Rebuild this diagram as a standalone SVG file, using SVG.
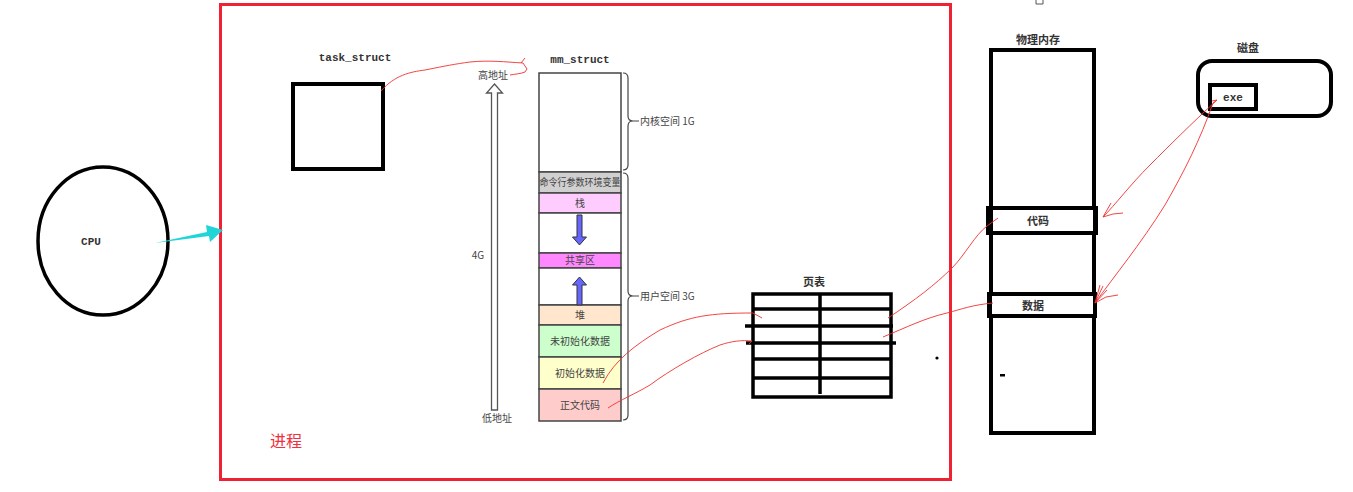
<svg xmlns="http://www.w3.org/2000/svg" width="1353" height="492" viewBox="0 0 1353 492">
<style>
.bold{font-family:"Liberation Mono","DejaVu Sans Mono",monospace;font-weight:bold;font-size:11px;fill:#333}
.cjkb{font-family:"Noto Sans CJK SC",sans-serif;font-weight:bold;font-size:11px;fill:#333}
.lbl{font-family:"Noto Sans CJK SC",sans-serif;font-size:10px;fill:#444}
.seg{stroke:#444;stroke-width:1.5}
.blk{fill:none;stroke:#000}
.red{fill:none;stroke:#f03030;stroke-width:0.9}
.brace{fill:none;stroke:#444;stroke-width:1.2}
.blue{fill:#6666ff;stroke:#333;stroke-width:1}
</style>
<rect width="1353" height="492" fill="#fff"/>
<path d="M1036,4 V0 M1043,4 V0 M1036,4 H1043" stroke="#555" stroke-width="1" fill="none"/>

<g id="process">
<rect x="220.5" y="4.5" width="730" height="475" fill="none" stroke="#ee2233" stroke-width="3"/>
<text x="270" y="447" font-family="Noto Sans CJK SC,sans-serif" font-size="16" fill="#f03040">进程</text>
</g>

<g id="cpu">
<ellipse cx="103" cy="241" rx="65" ry="74" class="blk" stroke-width="3.5"/>
<text x="91" y="245" class="bold" font-size="10" text-anchor="middle">CPU</text>
</g>

<g id="task_struct">
<text x="355" y="61" class="bold" text-anchor="middle">task_struct</text>
<rect x="293" y="84" width="90" height="85" class="blk" stroke-width="4"/>
</g>

<g id="address_axis">
<text x="493" y="79" class="lbl" text-anchor="middle">高地址</text>
<path d="M491.5,410 V93 H486.5 L494.5,84 L502.5,93 H497.5 V410 Z" fill="#fff" stroke="#555" stroke-width="1.3"/>
<text x="478" y="259" class="lbl" text-anchor="middle">4G</text>
<text x="497" y="422" class="lbl" text-anchor="middle">低地址</text>
</g>

<g id="mm_struct">
<text x="580" y="63" class="bold" text-anchor="middle">mm_struct</text>
<rect x="539" y="73" width="82" height="99" fill="#fff" class="seg"/>
<rect x="539" y="172" width="82" height="21" fill="#d0d0d0" class="seg"/>
<text x="580" y="186" class="lbl" text-anchor="middle" font-size="9.5" textLength="81" lengthAdjust="spacingAndGlyphs">命令行参数环境变量</text>
<rect x="539" y="193" width="82" height="20" fill="#ffccff" class="seg"/>
<text x="580" y="207" class="lbl" text-anchor="middle">栈</text>
<rect x="539" y="213" width="82" height="40" fill="#fff" class="seg"/>
<rect x="539" y="253" width="82" height="15" fill="#ff88ff" class="seg"/>
<text x="580" y="264" class="lbl" text-anchor="middle">共享区</text>
<rect x="539" y="268" width="82" height="37" fill="#fff" class="seg"/>
<rect x="539" y="305" width="82" height="20" fill="#ffe6cc" class="seg"/>
<text x="580" y="319" class="lbl" text-anchor="middle">堆</text>
<rect x="539" y="325" width="82" height="32" fill="#ccffcc" class="seg"/>
<text x="580" y="345" class="lbl" text-anchor="middle">未初始化数据</text>
<rect x="539" y="357" width="82" height="32" fill="#ffffcc" class="seg"/>
<text x="580" y="377" class="lbl" text-anchor="middle">初始化数据</text>
<rect x="539" y="389" width="82" height="32" fill="#ffcccc" class="seg"/>
<text x="580" y="409" class="lbl" text-anchor="middle">正文代码</text>
<path class="blue" d="M577,215 H582 V237 H586.5 L579.5,245 L572.5,237 H577 Z"/>
<path class="blue" d="M577,305 V285 H572.5 L579.5,277 L586.5,285 H582 V305 Z"/>
<path class="brace" d="M623,73 Q628,73 628,78 V116 Q628,121 633,121 Q628,121 628,126 V165 Q628,170 623,170 M633,121 H639"/>
<text x="640" y="125" class="lbl">内核空间 1G</text>
<path class="brace" d="M623,173 Q628,173 628,178 V291 Q628,296 633,296 Q628,296 628,301 V415 Q628,420 623,420 M633,296 H639"/>
<text x="640" y="300" class="lbl">用户空间 3G</text>
</g>

<g id="page_table">
<text x="814" y="286" class="cjkb" text-anchor="middle">页表</text>
<rect x="753" y="294" width="138" height="103" class="blk" stroke-width="3.5"/>
<path d="M820,294 V394 M753,309 H891 M745,326 H893 M746,343 H896 M753,359 H891 M753,378 H891" class="blk" stroke-width="3.5"/>
<circle cx="937" cy="358" r="1.6" fill="#000"/>
</g>

<g id="physical_memory">
<text x="1038" y="44" class="cjkb" text-anchor="middle">物理内存</text>
<rect x="991" y="50" width="103" height="383" class="blk" stroke-width="4"/>
<rect x="988" y="208" width="108" height="25" fill="#fff" stroke="#000" stroke-width="4"/>
<rect x="986" y="207" width="7" height="27" fill="#000"/>
<rect x="1093" y="207" width="5" height="27" fill="#000"/>
<text x="1038" y="225" class="cjkb" text-anchor="middle">代码</text>
<rect x="989" y="294" width="106" height="22" fill="#fff" stroke="#000" stroke-width="4"/>
<rect x="987" y="293" width="5" height="24" fill="#000"/>
<rect x="1093" y="293" width="4" height="24" fill="#000"/>
<text x="1033" y="310" class="cjkb" text-anchor="middle">数据</text>
<rect x="1000" y="374" width="5" height="2.5" fill="#000"/>
</g>

<g id="disk">
<text x="1248" y="52" class="cjkb" text-anchor="middle">磁盘</text>
<rect x="1198" y="61" width="133" height="55" rx="14" class="blk" stroke-width="4"/>
<rect x="1210" y="85" width="46" height="24" class="blk" stroke-width="4"/>
<text x="1233" y="101" class="bold" text-anchor="middle" font-size="10">exe</text>
</g>

<g id="connectors">
<polygon points="155,243 207,232 206,225 223,230 210,242 209,236" fill="#1fd5d8"/>
<path class="red" d="M381,91 C395,75 410,72 425,70 C445,66 455,64 470,62 C490,60 505,62 523,63 L527,69 L525,72 C520,74 515,74 510,75 M521,63 L525,58"/>
<path class="red" d="M603,383 C615,360 635,345 660,330 C690,316 710,313 753,313 L762,318"/>
<path class="red" d="M608,408 C620,400 635,394 650,385 C670,370 700,353 720,345 C732,341 742,340 752,341 L749,344"/>
<path class="red" d="M888,318 C915,300 935,285 952,268 C965,255 975,235 987,226 L998,218"/>
<path class="red" d="M883,337 C905,328 925,318 947,313 C962,309 972,305 993,303"/>
<path class="red" d="M1217,100 C1190,125 1170,145 1150,165 C1130,185 1115,205 1103,217 M1103,217 L1111,203 M1103,217 L1113,214 L1123,213"/>
<path class="red" d="M1213,103 L1217,100 L1212,101"/>
<path class="red" d="M1213,103 C1200,140 1185,170 1165,205 C1140,245 1115,275 1095,303 M1095,303 L1100,285 M1095,303 L1103,286 M1095,303 L1107,290 M1095,303 L1106,297 L1118,295"/>
</g>
</svg>
